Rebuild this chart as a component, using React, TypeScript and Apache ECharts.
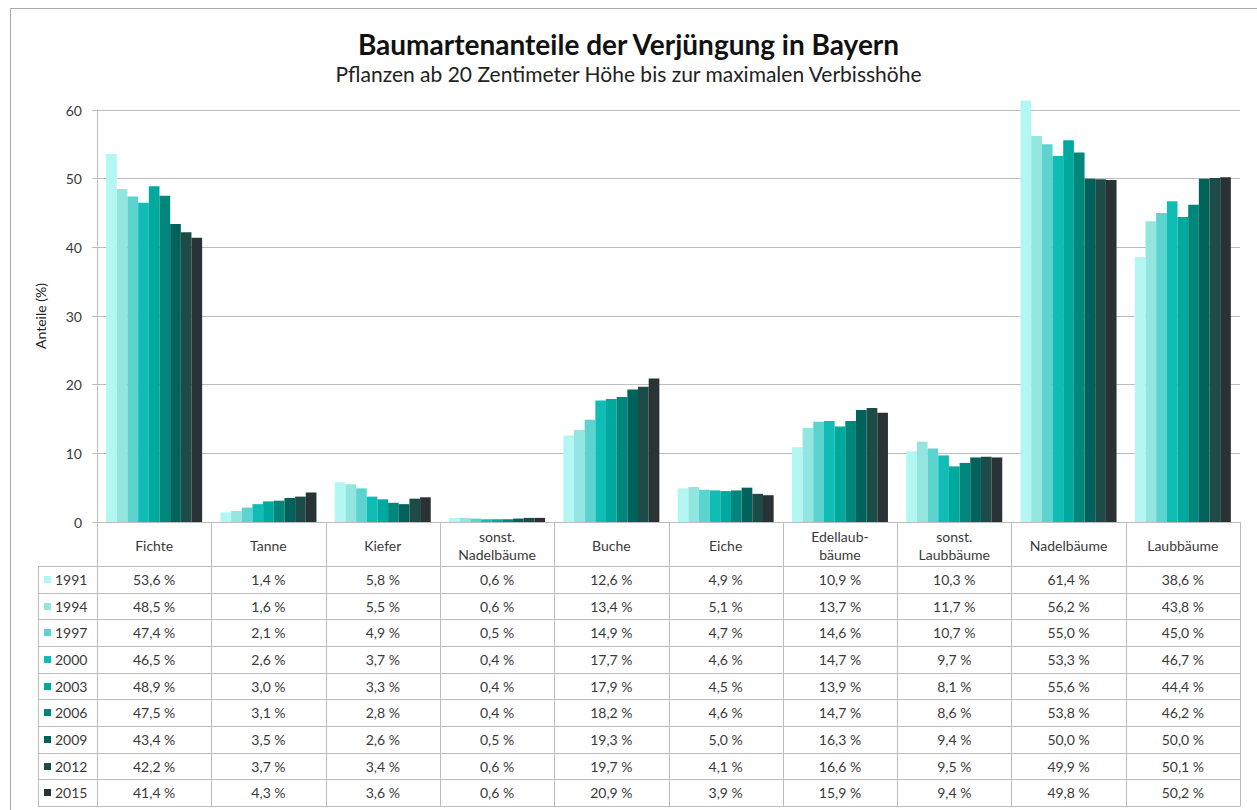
import React, { useEffect, useRef } from "react";
import * as echarts from "echarts";

const categories = [
  "Fichte",
  "Tanne",
  "Kiefer",
  "sonst.\nNadelbäume",
  "Buche",
  "Eiche",
  "Edellaub-\nbäume",
  "sonst.\nLaubbäume",
  "Nadelbäume",
  "Laubbäume",
];

const years = ["1991", "1994", "1997", "2000", "2003", "2006", "2009", "2012", "2015"];

const values1991 = [53.6, 1.4, 5.8, 0.6, 12.6, 4.9, 10.9, 10.3, 61.4, 38.6];
const values1994 = [48.5, 1.6, 5.5, 0.6, 13.4, 5.1, 13.7, 11.7, 56.2, 43.8];
const values1997 = [47.4, 2.1, 4.9, 0.5, 14.9, 4.7, 14.6, 10.7, 55.0, 45.0];
const values2000 = [46.5, 2.6, 3.7, 0.4, 17.7, 4.6, 14.7, 9.7, 53.3, 46.7];
const values2003 = [48.9, 3.0, 3.3, 0.4, 17.9, 4.5, 13.9, 8.1, 55.6, 44.4];
const values2006 = [47.5, 3.1, 2.8, 0.4, 18.2, 4.6, 14.7, 8.6, 53.8, 46.2];
const values2009 = [43.4, 3.5, 2.6, 0.5, 19.3, 5.0, 16.3, 9.4, 50.0, 50.0];
const values2012 = [42.2, 3.7, 3.4, 0.6, 19.7, 4.1, 16.6, 9.5, 49.9, 50.1];
const values2015 = [41.4, 4.3, 3.6, 0.6, 20.9, 3.9, 15.9, 9.4, 49.8, 50.2];

const seriesValues = [
  values1991,
  values1994,
  values1997,
  values2000,
  values2003,
  values2006,
  values2009,
  values2012,
  values2015,
];

const yTicks = [0, 10, 20, 30, 40, 50, 60];

const colors = [
  "#b3f7f2",
  "#93e6e0",
  "#5cd3cf",
  "#0fbdb4",
  "#00a99e",
  "#00867b",
  "#00625a",
  "#1d4b47",
  "#2b3236",
];

const W = 1257;
const H = 810;
const GRID_LEFT = 97;
const GRID_RIGHT_X = 1240;
const GRID_TOP = 110;
const AXIS_Y = 522;
const HEADER_BOTTOM = 566;
const TABLE_BOTTOM = 806;
const LEGEND_LEFT = 38;
const FONT = "Lato, 'Noto Sans', sans-serif";
const LINE_COLOR = "#bdbdbd";
const TEXT_COLOR = "#3a3a3a";

const fmt = (v: number) => v.toFixed(1).replace(".", ",") + " %";

export default function App() {
  const ref = useRef<HTMLDivElement>(null);

  useEffect(() => {
    document.body.style.margin = "0";
    if (!ref.current) return;
    const chart = echarts.init(ref.current, undefined, { renderer: "svg" });

    const option: any = {
      animation: false,
      backgroundColor: "#ffffff",
      textStyle: { fontFamily: FONT },
      title: {
        text: "Baumartenanteile der Verjüngung in Bayern",
        subtext: "Pflanzen ab 20 Zentimeter Höhe bis zur maximalen Verbisshöhe",
        left: "center",
        top: 25,
        itemGap: 5,
        textStyle: { fontFamily: FONT, fontSize: 28, fontWeight: "bold", color: "#111" },
        subtextStyle: { fontFamily: FONT, fontSize: 21, color: "#222" },
      },
      grid: {
        left: GRID_LEFT,
        right: W - GRID_RIGHT_X,
        top: GRID_TOP,
        bottom: H - AXIS_Y,
        containLabel: false,
      },
      xAxis: {
        type: "category",
        data: categories,
        axisLine: { show: true, lineStyle: { color: LINE_COLOR } },
        axisTick: { show: false },
        axisLabel: {
          interval: 0,
          margin: 23,
          verticalAlign: "middle",
          fontFamily: FONT,
          fontSize: 14,
          color: TEXT_COLOR,
          lineHeight: 18,
        },
      },
      yAxis: {
        type: "value",
        min: 0,
        max: 60,
        interval: 10,
        name: "Anteile (%)",
        nameLocation: "middle",
        nameGap: 50,
        nameTextStyle: { fontFamily: FONT, fontSize: 14, color: "#222" },
        axisLine: { show: true, lineStyle: { color: LINE_COLOR } },
        axisTick: { show: true, length: 5, lineStyle: { color: LINE_COLOR } },
        axisLabel: {
          margin: 15,
          fontFamily: FONT,
          fontSize: 14,
          color: TEXT_COLOR,
          formatter: (v: number) => (yTicks.includes(v) ? String(v) : ""),
        },
        splitLine: { show: true, lineStyle: { color: LINE_COLOR } },
      },
      series: years.map((y, i) => ({
        name: y,
        type: "bar",
        data: seriesValues[i],
        barGap: "0%",
        barCategoryGap: "16%",
        clip: false,
        itemStyle: { color: colors[i] },
      })),
    };

    chart.setOption(option);

    const graphics: any[] = [];
    const colWidth = (GRID_RIGHT_X - GRID_LEFT) / categories.length;
    const rowH = (TABLE_BOTTOM - HEADER_BOTTOM) / years.length;

    graphics.push({
      type: "rect",
      shape: { x: 10.5, y: 8.5, width: W + 20, height: H + 20 },
      style: { fill: "none", stroke: "#a8a8a8", lineWidth: 1 },
      silent: true,
    });

    for (let c = 0; c <= categories.length; c++) {
      const x = Math.round(GRID_LEFT + c * colWidth) + 0.5;
      graphics.push({
        type: "line",
        shape: { x1: x, y1: AXIS_Y, x2: x, y2: TABLE_BOTTOM },
        style: { stroke: LINE_COLOR, lineWidth: 1 },
        silent: true,
      });
    }
    graphics.push({
      type: "line",
      shape: { x1: LEGEND_LEFT + 0.5, y1: HEADER_BOTTOM, x2: LEGEND_LEFT + 0.5, y2: TABLE_BOTTOM },
      style: { stroke: LINE_COLOR, lineWidth: 1 },
      silent: true,
    });
    for (let r = 0; r <= years.length; r++) {
      const y = Math.round(HEADER_BOTTOM + r * rowH) + 0.5;
      graphics.push({
        type: "line",
        shape: { x1: LEGEND_LEFT, y1: y, x2: GRID_RIGHT_X + 0.5, y2: y },
        style: { stroke: LINE_COLOR, lineWidth: 1 },
        silent: true,
      });
    }

    years.forEach((yr, r) => {
      const cy = HEADER_BOTTOM + (r + 0.5) * rowH;
      graphics.push({
        type: "rect",
        shape: { x: 44, y: Math.round(cy - 3.5), width: 7, height: 7 },
        style: { fill: colors[r] },
        silent: true,
      });
      graphics.push({
        type: "text",
        x: 55,
        y: cy,
        style: {
          text: yr,
          fontFamily: FONT,
          fontSize: 14,
          fill: TEXT_COLOR,
          align: "left",
          verticalAlign: "middle",
        },
        silent: true,
      });
      categories.forEach((_, c) => {
        const px = chart.convertToPixel({ xAxisIndex: 0 }, c) as number;
        graphics.push({
          type: "text",
          x: px,
          y: cy,
          style: {
            text: fmt(seriesValues[r][c]),
            fontFamily: FONT,
            fontSize: 14,
            fill: TEXT_COLOR,
            align: "center",
            verticalAlign: "middle",
          },
          silent: true,
        });
      });
    });

    chart.setOption({ graphic: graphics });

    return () => {
      chart.dispose();
    };
  }, []);

  return <div ref={ref} style={{ width: W, height: H }} />;
}
